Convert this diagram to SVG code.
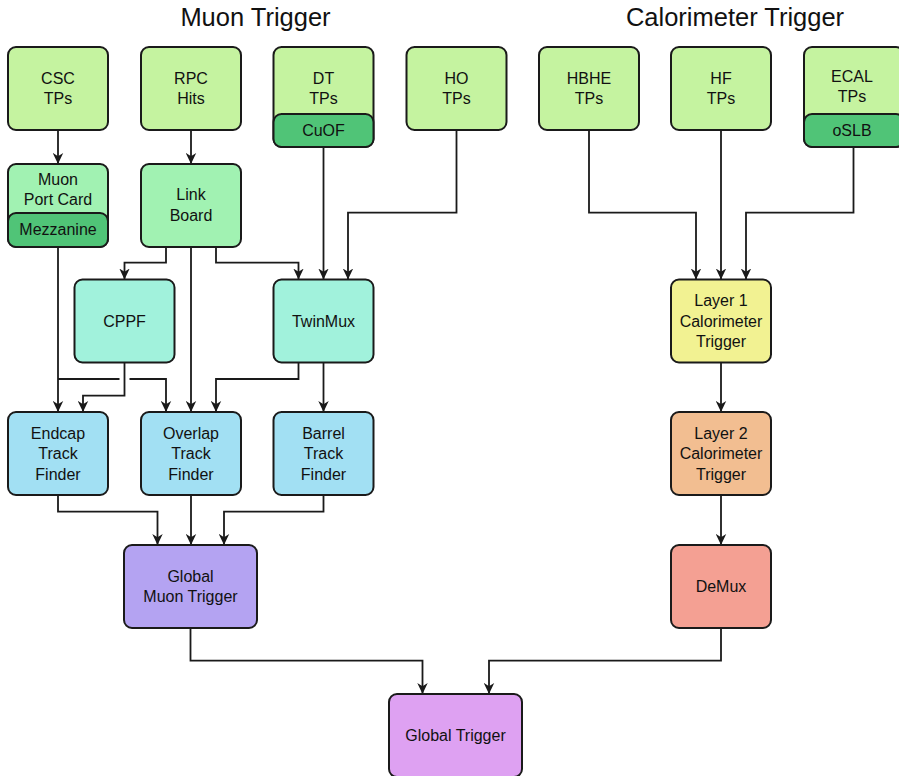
<svg xmlns="http://www.w3.org/2000/svg" width="899" height="776" viewBox="0 0 899 776">
<defs>
<style>
.b{stroke:#1a1a1a;stroke-width:2}
.t{font-family:"Liberation Sans",Arial,Helvetica,sans-serif;font-size:16px;fill:#111;text-anchor:middle}
.h{font-family:"Liberation Sans",Arial,Helvetica,sans-serif;font-size:25.5px;fill:#111;text-anchor:middle}
.c{fill:none;stroke:#1a1a1a;stroke-width:1.8;marker-end:url(#arr)}
.tp{fill:#c5f3a0}.mid{fill:#a1f2b2}.dk{fill:#50c477}.tl{fill:#a1f2dc}.bl{fill:#a2e0f3}
</style>
<marker id="arr" viewBox="0 0 11 11" refX="11" refY="5.5" markerWidth="11" markerHeight="11" markerUnits="userSpaceOnUse" orient="auto">
<path d="M0,0.3 L11,5.5 L0,10.7 L3.2,5.5 Z" fill="#1a1a1a"/>
</marker>
</defs>
<rect width="899" height="776" fill="#fff"/>
<text class="h" x="255.5" y="26">Muon Trigger</text>
<text class="h" x="735" y="26">Calorimeter Trigger</text>

<g id="connectors">
<path class="c" d="M58,130 V164"/>
<path class="c" d="M191,130 V164"/>
<path class="c" d="M166,246 V262.7 H124.5 V279.5"/>
<path class="c" d="M191,246 V412"/>
<path class="c" d="M216,246 V262.7 H298.5 V279.5"/>
<path class="c" d="M323.5,147 V279.5"/>
<path class="c" d="M456.5,130 V212.7 H348 V279.5"/>
<path class="c" d="M58,247 V412"/>
<path class="c" d="M58,379 H119.5 M129.5,379 H166 V412"/>
<path class="c" d="M124.5,362.5 V395.7 H83 V412"/>
<path class="c" d="M298.5,362.5 V379 H216 V412"/>
<path class="c" d="M323.5,362.5 V412"/>
<path class="c" d="M58,495 V511.7 H157.5 V545"/>
<path class="c" d="M191,495 V545"/>
<path class="c" d="M323.5,495 V511.7 H224 V545"/>
<path class="c" d="M190.5,628 V660.7 H422.5 V694"/>
<path class="c" d="M589,130 V212.7 H696 V279.5"/>
<path class="c" d="M721,130 V279.5"/>
<path class="c" d="M853.5,147 V212.7 H746 V279.5"/>
<path class="c" d="M721,362.5 V412"/>
<path class="c" d="M721,495 V545"/>
<path class="c" d="M721,628 V660.7 H489 V694"/>
</g>

<g id="csc"><rect class="b tp" x="8" y="47" width="100" height="83" rx="8"/><text class="t" x="58" y="84">CSC</text><text class="t" x="58" y="104">TPs</text></g>
<g id="rpc"><rect class="b tp" x="141" y="47" width="100" height="83" rx="8"/><text class="t" x="191" y="84">RPC</text><text class="t" x="191" y="104">Hits</text></g>
<g id="dt"><rect class="b tp" x="273.5" y="47" width="100" height="100" rx="8"/><text class="t" x="323.5" y="84">DT</text><text class="t" x="323.5" y="104">TPs</text>
<rect class="b dk" x="273.5" y="114" width="100" height="33" rx="8"/><text class="t" x="323.5" y="135.5">CuOF</text></g>
<g id="ho"><rect class="b tp" x="406.5" y="47" width="100" height="83" rx="8"/><text class="t" x="456.5" y="84">HO</text><text class="t" x="456.5" y="104">TPs</text></g>
<g id="hbhe"><rect class="b tp" x="539" y="47" width="100" height="83" rx="8"/><text class="t" x="589" y="84">HBHE</text><text class="t" x="589" y="104">TPs</text></g>
<g id="hf"><rect class="b tp" x="671" y="47" width="100" height="83" rx="8"/><text class="t" x="721" y="84">HF</text><text class="t" x="721" y="104">TPs</text></g>
<g id="ecal"><rect class="b tp" x="804" y="47" width="100" height="100" rx="8"/><text class="t" x="852" y="82">ECAL</text><text class="t" x="852" y="102">TPs</text>
<rect class="b dk" x="804" y="114" width="100" height="33" rx="8"/><text class="t" x="852" y="135.5">oSLB</text></g>

<g id="mpc"><rect class="b mid" x="8" y="164" width="100" height="83" rx="8"/><text class="t" x="58" y="184.5">Muon</text><text class="t" x="58" y="205">Port Card</text>
<rect class="b dk" x="8" y="213" width="100" height="34" rx="8"/><text class="t" x="58" y="235">Mezzanine</text></g>
<g id="linkboard"><rect class="b mid" x="141" y="164" width="100" height="83" rx="8"/><text class="t" x="191" y="200">Link</text><text class="t" x="191" y="220.5">Board</text></g>

<g id="cppf"><rect class="b tl" x="74.5" y="279.5" width="100" height="83" rx="8"/><text class="t" x="124.5" y="326.5">CPPF</text></g>
<g id="twinmux"><rect class="b tl" x="273.5" y="279.5" width="100" height="83" rx="8"/><text class="t" x="323.5" y="326.5">TwinMux</text></g>

<g id="emtf"><rect class="b bl" x="8" y="412" width="100" height="83" rx="8"/><text class="t" x="58" y="438.5">Endcap</text><text class="t" x="58" y="459">Track</text><text class="t" x="58" y="479.5">Finder</text></g>
<g id="omtf"><rect class="b bl" x="141" y="412" width="100" height="83" rx="8"/><text class="t" x="191" y="438.5">Overlap</text><text class="t" x="191" y="459">Track</text><text class="t" x="191" y="479.5">Finder</text></g>
<g id="bmtf"><rect class="b bl" x="273.5" y="412" width="100" height="83" rx="8"/><text class="t" x="323.5" y="438.5">Barrel</text><text class="t" x="323.5" y="459">Track</text><text class="t" x="323.5" y="479.5">Finder</text></g>

<g id="gmt"><rect class="b" fill="#b4a3f2" x="124" y="545" width="133" height="83" rx="8"/><text class="t" x="190.5" y="581.5">Global</text><text class="t" x="190.5" y="602">Muon Trigger</text></g>
<g id="gt"><rect class="b" fill="#dea1f2" x="389" y="694" width="133" height="83" rx="8"/><text class="t" x="455.5" y="741">Global Trigger</text></g>

<g id="layer1"><rect class="b" fill="#f2f292" x="671" y="279.5" width="100" height="83" rx="8"/><text class="t" x="721" y="306">Layer 1</text><text class="t" x="721" y="326.5">Calorimeter</text><text class="t" x="721" y="347">Trigger</text></g>
<g id="layer2"><rect class="b" fill="#f2be91" x="671" y="412" width="100" height="83" rx="8"/><text class="t" x="721" y="438.5">Layer 2</text><text class="t" x="721" y="459">Calorimeter</text><text class="t" x="721" y="479.5">Trigger</text></g>
<g id="demux"><rect class="b" fill="#f4a093" x="671" y="545" width="100" height="83" rx="8"/><text class="t" x="721" y="592">DeMux</text></g>
</svg>
